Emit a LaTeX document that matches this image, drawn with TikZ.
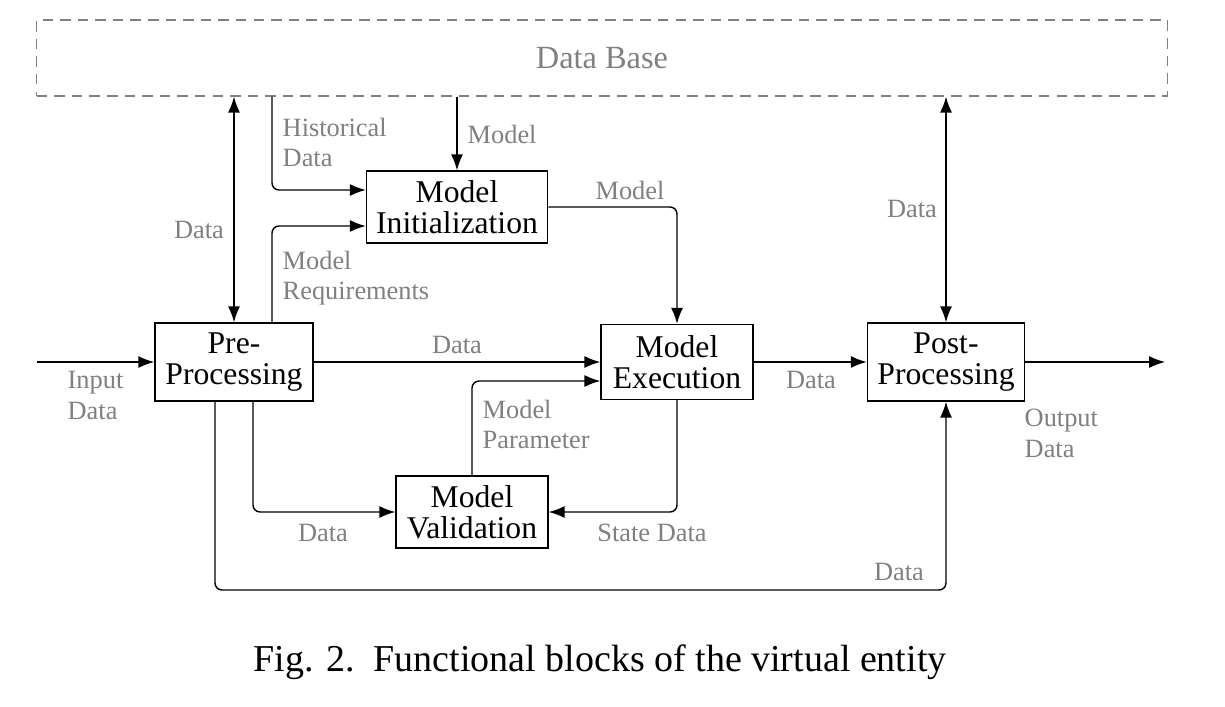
\documentclass[tikz,border=0pt]{standalone}
\usepackage{fontspec}
\setmainfont{Liberation Serif}
\usepackage{tikz}
\usetikzlibrary{positioning,calc,arrows.meta}

\begin{document}
\begin{tikzpicture}[x=0.01cm, y=-0.01cm,
    block/.style={draw, align=center, inner sep=1pt, font=\fontsize{9}{8.8}\selectfont},
    lbl/.style={text=gray, align=left, inner sep=0pt, font=\fontsize{7.5}{8.8}\selectfont},
    flow/.style={-{Latex[length=4.5pt,width=3.4pt]}, rounded corners=2pt, line width=0.4pt},
    both/.style={{Latex[length=4.5pt,width=3.4pt]}-{Latex[length=4.5pt,width=3.4pt]}, line width=0.4pt}]
    \useasboundingbox (0,0) rectangle (1225,706);

    % data base
    \node [draw=gray, dashed, dash pattern=on 3pt off 2pt, minimum width=11.3cm, minimum height=0.76cm, text=gray,
           font=\fontsize{9.2}{11}\selectfont] (db) at (602,58) {Data Base};

    % blocks
    \node [block, minimum width=1.81cm, minimum height=0.72cm] (init) at (457,207) {Model\\Initialization};
    \node [block, minimum width=1.58cm, minimum height=0.78cm] (pre) at (234,362) {Pre-\\Processing};
    \node [block, minimum width=1.52cm, minimum height=0.75cm] (exec) at (677,362) {Model\\Execution};
    \node [block, minimum width=1.57cm, minimum height=0.78cm] (post) at (946,362) {Post-\\Processing};
    \node [block, minimum width=1.52cm, minimum height=0.72cm] (val) at (472,512) {Model\\Validation};

    % helper points
    \coordinate (in) at (37,362);
    \coordinate (out) at (1165,362);
    \coordinate (hx) at (272,0);
    \coordinate (dx) at (253,0);
    \coordinate (bl) at (215,590);

    % connectors
    \draw [flow] (in) -- (pre.west);
    \draw [both] (pre.north) -- (pre.north |- db.south);
    \draw [flow] (db.south -| hx) |- ($(init.west)+(0,-17)$);
    \draw [flow] (db.south -| init.north) -- (init.north);
    \draw [flow] (pre.north -| hx) |- ($(init.west)+(0,19)$);
    \draw [flow] (init.east) -| (exec.north);
    \draw [flow] (pre.east) -- (exec.west);
    \draw [flow] (val.north) |- ($(exec.west)+(0,19)$);
    \draw [flow] (exec.south) |- (val.east);
    \draw [flow] (pre.south -| dx) |- (val.west);
    \draw [flow] (pre.south -| bl) -- (bl) -| (post.south);
    \draw [flow] (exec.east) -- (post.west);
    \draw [both] (post.north) -- (post.north |- db.south);
    \draw [flow] (post.east) -- (out);

    % labels
    \node [lbl, anchor=north west] (l-in) at (67,371) {Input\\Data};
    \node [lbl] (l-predb) at (199,230) {Data};
    \node [lbl, anchor=north west] (l-hist) at (282,117) {Historical\\Data};
    \node [lbl, anchor=west] (l-model) at (467,134) {Model};
    \node [lbl, anchor=north west] (l-req) at (282,250) {Model\\Requirements};
    \node [lbl] (l-initexec) at (630,190) {Model};
    \node [lbl] (l-preexec) at (457,345) {Data};
    \node [lbl, anchor=north west] (l-par) at (482,399) {Model\\Parameter};
    \node [lbl] (l-state) at (652,533) {State Data};
    \node [lbl] (l-preval) at (323,533) {Data};
    \node [lbl] (l-bottom) at (899,572) {Data};
    \node [lbl] (l-execpost) at (811,380) {Data};
    \node [lbl] (l-postdb) at (912,209) {Data};
    \node [lbl, anchor=north west] (l-out) at (1024,408) {Output\\Data};

    % caption
    \node [font=\fontsize{10.8}{13}\selectfont] (cap) at (600,662) {Fig. 2.\ \ Functional blocks of the virtual entity};
\end{tikzpicture}
\end{document}
